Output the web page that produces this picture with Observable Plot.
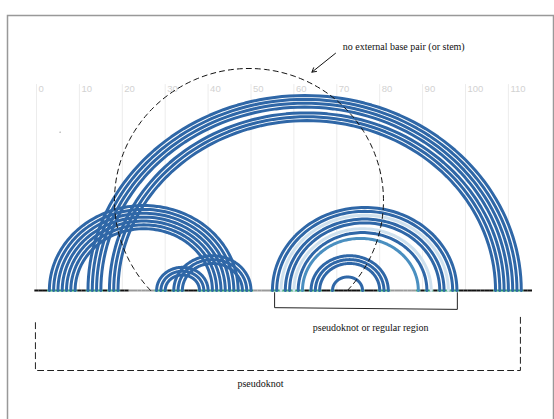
<!DOCTYPE html>
<html>
<head>
<meta charset="utf-8">
<script src="https://cdn.jsdelivr.net/npm/d3@7"></script>
<script src="https://cdn.jsdelivr.net/npm/@observablehq/plot@0.6"></script>
<style>
  html, body { margin: 0; padding: 0; background: #fff; }
  #wrap { position: relative; width: 554px; height: 419px; overflow: hidden; }
</style>
</head>
<body>
<div id="wrap"></div>
<script>
// ---- data ----
const tickValues = [0, 10, 20, 30, 40, 50, 60, 70, 80, 90, 100, 110];
const seqLength = 116;
// base pairs (i, j) and their shade
const pairI = [12, 13, 14, 15, 17, 18, 19,   3, 4, 5, 6, 7, 8, 9,   28, 29, 30,   32, 33, 34,
               55, 56, 57, 58, 59, 60, 61, 62,   64, 65, 66,   69];
const pairJ = [113, 112, 111, 110, 109, 108, 107,   47, 46, 45, 44, 43, 42, 41,   40, 39, 38,   50, 49, 48,
               98, 97, 96, 95, 94, 92, 91, 89,   82, 81, 80,   76];
const pairShade = ["d","d","d","d","d","d","d",  "d","d","d","d","d","d","d",  "d","d","d",  "d","d","d",
                   "d","d","p","d","d","p","d","m",  "d","d","d",  "d"];
const grayRuns = [[22, 27], [51, 54], [83, 88]];

// annotation labels
const labelNoExt = "no external base pair (or stem)";
const labelRegion = "pseudoknot or regular region";
const labelKnot = "pseudoknot";

// ---- derived ----
const shadeColor = {d: "#2f67a7", p: "#cfe1ee", m: "#4a8fc0"};
const arcRatio = 0.9;
const arcPts = [];
pairI.forEach((i, k) => {
  const j = pairJ[k], c = (i + j) / 2, r = (j - i) / 2;
  const n = 90;
  for (let s = 0; s <= n; s++) {
    const t = Math.PI - Math.PI * s / n;
    arcPts.push({id: k, x: c + r * Math.cos(t), y: arcRatio * r * Math.sin(t), color: shadeColor[pairShade[k]]});
  }
});
// draw pale arcs first
arcPts.sort((a, b) => (a.color === shadeColor.p ? 0 : 1) - (b.color === shadeColor.p ? 0 : 1));

const paired = new Set([...pairI, ...pairJ]);
const baseSegs = d3.range(seqLength).map(b => {
  let color = "#111";
  if (paired.has(b)) color = "#21a05c";
  else if (grayRuns.some(([a, z]) => b >= a && b <= z)) color = "#9a9a9a";
  return {x1: b - 0.5, x2: b + 0.5, color};
});

// dashed "no external base pair" region (ellipse, cut at baseline)
const ell = {cx: 49.53, cy: 20.98, a: 31.35, b: 30.77};
const th0 = Math.asin(ell.cy / ell.b);
const ellPts = d3.range(0, 201).map(s => {
  const t = Math.PI + th0 - (Math.PI + 2 * th0) * s / 200;
  return {x: ell.cx + ell.a * Math.cos(t), y: ell.cy + ell.b * Math.sin(t)};
});

// annotation geometry (data units)
const arrowSeg = [{x1: 69.7, y1: 55.3, x2: 64.2, y2: 50.9}];
const bracketPts = [{x: 55.5, y: -0.5}, {x: 55.5, y: -4.0}, {x: 98.1, y: -4.4}, {x: 98.1, y: -0.5}];
const knotBoxPts = [{x: -0.25, y: -7.5}, {x: -0.25, y: -18.65}, {x: 112.8, y: -18.65}, {x: 112.8, y: -5.6}];
const noteStart = [{x: 71.4, y: 56.7, text: labelNoExt}];
const noteMiddle = [
  {x: 77.9, y: -8.6, text: labelRegion},
  {x: 52.2, y: -21.7, text: labelKnot}
];

const serif = "'Liberation Serif', 'DejaVu Serif', serif";

const chart = Plot.plot({
  width: 554,
  height: 419,
  margin: 0,
  style: {background: "transparent", overflow: "visible"},
  x: {domain: [0, 110], range: [36, 36 + 110 * 4.29], axis: null},
  y: {domain: [0, 60], range: [290, 290 - 60 * 4.29], axis: null},
  marks: [
    Plot.ruleX(tickValues, {x: d => d, y1: 0, y2: 48.0, stroke: "#ececec", strokeWidth: 1}),
    Plot.text(tickValues, {x: d => d, y: 47.05, text: d => String(d), dx: 2, textAnchor: "start",
      fill: "#d2d2d2", fontSize: 9.5, fontFamily: "'Liberation Sans', Arial, sans-serif"}),
    Plot.link(baseSegs, {x1: "x1", x2: "x2", y1: 0, y2: 0, stroke: "color", strokeWidth: 2, strokeLinecap: "butt"}),
    Plot.line(arcPts, {x: "x", y: "y", z: "id", stroke: "color", strokeWidth: 3, curve: "linear"}),
    Plot.line(ellPts, {x: "x", y: "y", stroke: "#111", strokeWidth: 1, strokeDasharray: "5,4"}),
    Plot.arrow(arrowSeg, {x1: "x1", y1: "y1", x2: "x2", y2: "y2", bend: 0, stroke: "#111", strokeWidth: 1, headLength: 7}),
    Plot.line(bracketPts, {x: "x", y: "y", stroke: "#222", strokeWidth: 1}),
    Plot.line(knotBoxPts, {x: "x", y: "y", stroke: "#222", strokeWidth: 1, strokeDasharray: "6,4"}),
    Plot.dot([{x: 5.5, y: 36.9}], {x: "x", y: "y", r: 0.6, fill: "#888", stroke: null}),
    Plot.text(noteStart, {x: "x", y: "y", text: "text", textAnchor: "start", fill: "#111",
      fontSize: 10, fontFamily: serif}),
    Plot.text(noteMiddle, {x: "x", y: "y", text: "text", textAnchor: "middle", fill: "#111",
      fontSize: 10, fontFamily: serif})
  ]
});
document.getElementById("wrap").appendChild(chart);

// frame of the figure
d3.select(chart).append("rect")
  .attr("x", 7.5).attr("y", 15.5).attr("width", 546).attr("height", 420)
  .attr("fill", "none").attr("stroke", "#999").attr("stroke-width", 1.5);
</script>
</body>
</html>
